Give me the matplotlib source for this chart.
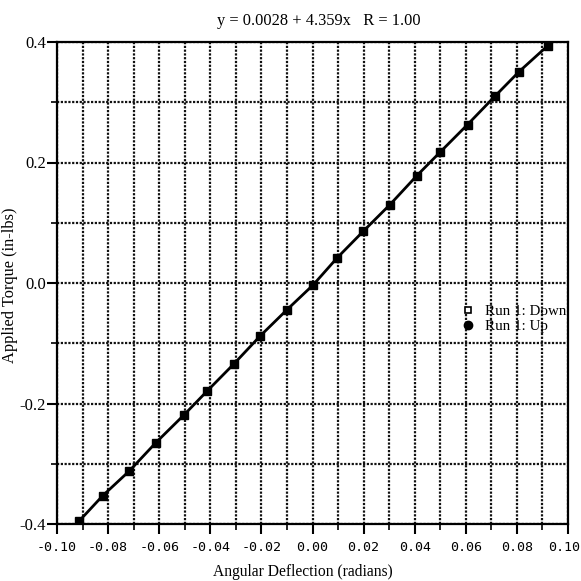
import matplotlib.pyplot as plt
from matplotlib.lines import Line2D
from matplotlib.ticker import MultipleLocator


# Values
deflection_down = [
    -0.0913, -0.0821, -0.0717, -0.0613, -0.0503, -0.0414, -0.0307,
    -0.0205, -0.0099, 0.0003, 0.0097, 0.0199, 0.0303, 0.0408,
    0.0499, 0.0607, 0.0714, 0.0809, 0.0921,
]
torque_down = [
    -0.395, -0.353, -0.312, -0.265, -0.219, -0.180, -0.134,
    -0.088, -0.044, -0.003, 0.042, 0.086, 0.130, 0.178,
    0.217, 0.263, 0.310, 0.351, 0.394,
]
deflection_up = list(deflection_down)
torque_up = list(torque_down)

title_text = "y = 0.0028 + 4.359x   R = 1.00"
x_tick_values = [-0.10, -0.08, -0.06, -0.04, -0.02, 0.00, 0.02, 0.04, 0.06, 0.08, 0.10]
x_tick_labels = ["-0.10", "-0.08", "-0.06", "-0.04", "-0.02", "0.00",
                 "0.02", "0.04", "0.06", "0.08", "0.10"]
y_tick_values = [-0.4, -0.2, 0.0, 0.2, 0.4]
y_tick_labels = ["-0.4", "-0.2", "0.0", "0.2", "0.4"]

serif = "Liberation Serif"
mono = "DejaVu Sans Mono"

fig = plt.figure(figsize=(5.81, 5.81), dpi=100)
ax = fig.add_axes([57 / 581, 57 / 581, 511 / 581, 482 / 581])

# Grid every 0.01 in x and 0.1 in y
ax.xaxis.set_minor_locator(MultipleLocator(0.01))
ax.yaxis.set_minor_locator(MultipleLocator(0.1))
grid_style = dict(color="#111111", linestyle=(0, (1, 0.7)), linewidth=1.6)
ax.grid(True, which="both", **grid_style)
ax.set_axisbelow(True)

ax.plot(deflection_up, torque_up, "o", color="black", markersize=5, zorder=3)
ax.plot(deflection_down, torque_down, "-", color="black", linewidth=2, zorder=4)
ax.plot(deflection_down, torque_down, "s", color="black", markersize=6, zorder=5)

ax.set_xlim(-0.10, 0.10)
ax.set_ylim(-0.4, 0.4)

# the last x label sits at the picture edge, so it is drawn a bit to the left
ax.set_xticks(x_tick_values)
ax.set_xticklabels(x_tick_labels[:-1] + [""], family=mono, fontsize=9.6)
ax.annotate(x_tick_labels[-1], xy=(x_tick_values[-1], 0),
            xycoords=("data", "axes fraction"), xytext=(-3, -12),
            textcoords="offset points", ha="center", va="top",
            family=mono, fontsize=9.6, annotation_clip=False)
ax.set_yticks(y_tick_values)
ax.set_yticklabels(y_tick_labels, family=serif, fontsize=12)

ax.tick_params(which="major", direction="out", length=7, width=1.5, color="black")
ax.tick_params(which="minor", direction="out", length=4, width=1.2, color="black")
ax.tick_params(axis="x", which="major", pad=5)
ax.tick_params(axis="y", which="major", pad=1)

for spine in ax.spines.values():
    spine.set_linewidth(1.6)
    spine.set_color("black")

fig.text(319 / 581, 1 - 25 / 581, title_text, family=serif, fontsize=11.8,
         ha="center", va="baseline")
fig.text(10 / 581, 1 - 285 / 581, "Applied Torque (in-lbs)", family=serif,
         fontsize=11.8, rotation=90, ha="center", va="center")
fig.text(303 / 581, 1 / 581, "Angular Deflection (radians)", family=serif,
         fontsize=11.2, ha="center", va="bottom")

legend_handles = [
    Line2D([], [], marker="s", linestyle="none", markerfacecolor="white",
           markeredgecolor="black", markersize=5, markeredgewidth=1.2),
    Line2D([], [], marker="o", linestyle="none", color="black", markersize=6),
]
ax.legend(legend_handles, ["Run 1: Down", "Run 1: Up"], loc="center left",
          bbox_to_anchor=(0.775, 0.425), frameon=False, handlelength=1,
          handletextpad=0.6, labelspacing=0.1, borderpad=0,
          prop={"family": serif, "size": 10.8})

fig.savefig("out.png", dpi=100)
